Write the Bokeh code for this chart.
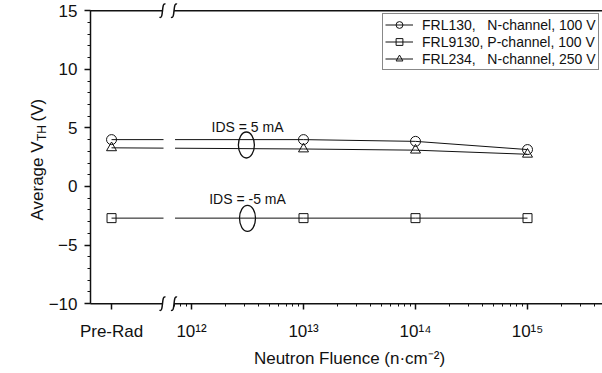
import math

from bokeh.core.properties import value
from bokeh.embed import file_html
from bokeh.models import FixedTicker, Label, Legend, LegendItem, LinearAxis, Range1d
from bokeh.plotting import figure
from bokeh.resources import INLINE

# ---- data -------------------------------------------------------------
# fluence in n/cm^2; 0 stands for the pre-irradiation measurement
fluence = [0.0, 1e13, 1e14, 1e15]
frl130 = [4.0, 4.0, 3.85, 3.15]
frl9130 = [-2.7, -2.7, -2.7, -2.7]
frl234 = [3.3, 3.2, 3.1, 2.75]

series_labels = [
    "FRL130,\u00a0\u00a0\u00a0N-channel, 100 V",
    "FRL9130, P-channel, 100 V",
    "FRL234,\u00a0\u00a0\u00a0N-channel, 250 V",
]
y_ticks = [-10, -5, 0, 5, 10, 15]
x_decades = [12, 13, 14, 15]
x_tick_labels = ["Pre-Rad", "10\u00b9\u00b2", "10\u00b9\u00b3", "10\u00b9\u2074", "10\u00b9\u2075"]

# ---- layout of the broken x axis (log10 units) ------------------------
PRE_RAD_X = 11.286      # where the pre-rad column sits left of the break
AXIS_X0 = 11.098        # left axis position
BREAK_L, BREAK_R = 11.741, 11.844
X_START, X_END = 10.2946, 15.6696
Y_START, Y_END = -15.956, 15.870
Y_LO, Y_HI = -10, 15

FONT = "Liberation Sans"
INK = "#111111"

W, H = 602, 373
px_x = (X_END - X_START) / W
px_y = (Y_END - Y_START) / H


def xpos(f):
    return PRE_RAD_X if f == 0 else math.log10(f)


xs = [xpos(f) for f in fluence]

# the frame spans the whole canvas; axes are pinned with fixed_location
p = figure(
    width=W, height=H,
    x_range=Range1d(X_START, X_END), y_range=Range1d(Y_START, Y_END),
    x_axis_location=None, y_axis_location=None,
    min_border_left=0, min_border_right=0, min_border_top=0, min_border_bottom=0,
    output_backend="svg", toolbar_location=None,
)
p.outline_line_color = None
p.grid.visible = False
p.background_fill_color = "white"
p.border_fill_color = "white"

# ---- axes ------------------------------------------------------------
yaxis = LinearAxis(
    fixed_location=AXIS_X0, bounds=(Y_LO, Y_HI),
    ticker=FixedTicker(ticks=y_ticks, minor_ticks=list(range(Y_LO, Y_HI + 1))),
)
yaxis.axis_line_width = 1.5
yaxis.axis_line_color = INK
yaxis.major_tick_in = 0
yaxis.major_tick_out = 6
yaxis.minor_tick_in = 0
yaxis.minor_tick_out = 3
yaxis.major_tick_line_color = INK
yaxis.minor_tick_line_color = INK
yaxis.major_tick_line_width = 1.5
yaxis.major_label_standoff = 7
yaxis.major_label_text_font = FONT
yaxis.major_label_text_font_size = "17px"
yaxis.major_label_text_color = INK
p.add_layout(yaxis, "left")

minor_x = [d + math.log10(m) for d in range(11, 16) for m in range(2, 10)]
minor_x = [m for m in minor_x if BREAK_R < m < X_END]
x_ticks = [PRE_RAD_X] + x_decades
xaxis = LinearAxis(
    fixed_location=Y_LO, bounds=(AXIS_X0, X_END),
    ticker=FixedTicker(ticks=x_ticks, minor_ticks=minor_x),
    major_label_overrides={t: lab for t, lab in zip(x_ticks, x_tick_labels)},
)
xaxis.axis_line_color = None
xaxis.major_tick_in = 0
xaxis.major_tick_out = 6
xaxis.minor_tick_in = 0
xaxis.minor_tick_out = 3
xaxis.major_tick_line_color = INK
xaxis.minor_tick_line_color = INK
xaxis.major_tick_line_width = 1.5
xaxis.major_label_standoff = 12
xaxis.major_label_text_font = FONT
xaxis.major_label_text_font_size = "17px"
xaxis.major_label_text_color = INK
p.add_layout(xaxis, "below")

# ---- series ----------------------------------------------------------
styles = [
    (frl130, "circle", 10),
    (frl9130, "square", 9),
    (frl234, "triangle", 10),
]
line_rs, mark_rs = [], []
for vals, marker, size in styles:
    line_rs.append(p.line(xs, vals, line_color=INK, line_width=1))

# gap in the data lines at the axis break
p.quad(left=[BREAK_L + 1 * px_x], right=[BREAK_R + 1 * px_x], bottom=[Y_LO + 0.5], top=[Y_HI - 0.5],
       fill_color="white", line_color=None)

for vals, marker, size in styles:
    mark_rs.append(p.scatter(xs, vals, marker=marker, size=size, fill_color=None,
                             line_color=INK, line_width=1))

# group annotations
p.ellipse(x=[12.49, 12.5], y=[3.54, -2.72], width=[16, 16], height=[26, 26],
          width_units="screen", height_units="screen",
          fill_color=None, line_color=INK, line_width=1.3)
p.text(x=[12.5, 12.5], y=[5.1, -1.1], text=["IDS = 5 mA", "IDS = -5 mA"],
       text_font=value(FONT), text_font_size="14px", text_color=INK,
       text_align="center", text_baseline="alphabetic")

# frame lines at top and bottom, interrupted at the break
p.segment(x0=[AXIS_X0, BREAK_R, AXIS_X0, BREAK_R], x1=[BREAK_L, X_END, BREAK_L, X_END],
          y0=[Y_HI, Y_HI, Y_LO, Y_LO], y1=[Y_HI, Y_HI, Y_LO, Y_LO],
          line_color=INK, line_width=1.5)

# break marks
bx, by = [], []
for b in (BREAK_L, BREAK_R):
    for yy in (Y_HI, Y_LO):
        bx.append(b)
        by.append(yy)
p.bezier(
    x0=[b + 3 * px_x for b in bx], y0=[y + 6.5 * px_y for y in by],
    x1=[b - 3 * px_x for b in bx], y1=[y - 6.5 * px_y for y in by],
    cx0=[b - 1.5 * px_x for b in bx], cy0=[y + 9 * px_y for y in by],
    cx1=[b + 1.5 * px_x for b in bx], cy1=[y - 9 * px_y for y in by],
    line_color=INK, line_width=1.5,
)

# ---- legend ----------------------------------------------------------
legend = Legend(
    items=[LegendItem(label=lab, renderers=[lr, mr])
           for lab, lr, mr in zip(series_labels, line_rs, mark_rs)],
    location=(382, 303),
    border_line_color=INK, border_line_width=1,
    background_fill_color="white", background_fill_alpha=1.0,
    padding=2, spacing=0, margin=0,
    glyph_width=28, glyph_height=17, label_height=17, label_standoff=9,
    label_text_font=FONT, label_text_font_size="14px", label_text_color=INK,
)
p.add_layout(legend)

# ---- axis titles -----------------------------------------------------
p.add_layout(Label(x=349, y=15, x_units="screen", y_units="screen",
                   text="Neutron Fluence (n\u00b7cm\u207b\u00b2)", text_align="center",
                   text_baseline="alphabetic", text_font=FONT, text_font_size="17px",
                   text_color=INK))
p.add_layout(Label(x=37, y=153, x_units="screen", y_units="screen", angle=math.pi / 2,
                   text="Average V", text_align="left", text_baseline="alphabetic",
                   text_font=FONT, text_font_size="17px", text_color=INK))
p.add_layout(Label(x=41, y=232.5, x_units="screen", y_units="screen", angle=math.pi / 2,
                   text="TH", text_align="left", text_baseline="alphabetic",
                   text_font=FONT, text_font_size="12px", text_color=INK))
p.add_layout(Label(x=37, y=252, x_units="screen", y_units="screen", angle=math.pi / 2,
                   text="(V)", text_align="left", text_baseline="alphabetic",
                   text_font=FONT, text_font_size="17px", text_color=INK))

open("out.html", "w").write(file_html(p, INLINE))
